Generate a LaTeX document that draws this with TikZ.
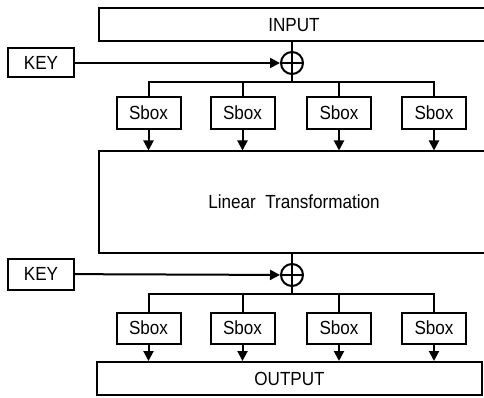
\documentclass[tikz,border=0pt]{standalone}
\usepackage{fontspec}
\setmainfont[FakeStretch=0.9]{Liberation Sans}
\usetikzlibrary{arrows.meta}
\begin{document}
\begin{tikzpicture}[x=1pt,y=-1pt, line width=2pt,
  box/.style={draw, rectangle, inner sep=0pt, font=\fontsize{19}{21}\selectfont},
  sbox/.style={box, minimum width=64pt, minimum height=32pt},
  keybox/.style={box, minimum width=66pt, minimum height=29pt},
  arr/.style={-{Triangle[length=10pt,width=10pt]}},
  xorc/.style={draw, circle, minimum size=22pt, inner sep=0pt}
]
\useasboundingbox (0,0) rectangle (484,398);
% first round
\node[box, minimum width=390pt, minimum height=33pt] (in) at (294,25) {INPUT};
\node[keybox] (k1) at (41,63) {KEY};
\node[xorc] (x1) at (292,63) {};
\draw (x1.north) -- (x1.south) (x1.west) -- (x1.east);
\draw (in.south -| x1) -- (x1.north);
\draw[arr] (k1) -- (x1);
\coordinate (b1) at (292,82);
\draw (x1.south) -- (b1);
\node[sbox] (s11) at (148.5,113) {Sbox};
\node[sbox] (s12) at (242.5,113) {Sbox};
\node[sbox] (s13) at (339,113) {Sbox};
\node[sbox] (s14) at (434,113) {Sbox};
\draw (s11.north) |- (b1) -| (s14.north);
\draw (s12.north) -- (s12.north |- b1);
\draw (s13.north) -- (s13.north |- b1);
\node[box, minimum width=390pt, minimum height=101pt] (lin) at (294,202) {Linear\ \ Transformation};
\foreach \s in {s11,s12,s13,s14} \draw[arr] (\s.south) -- (\s.south |- lin.north);
% second round
\node[keybox, minimum height=31pt] (k2) at (41,274) {KEY};
\node[xorc] (x2) at (292,275) {};
\draw (x2.north) -- (x2.south) (x2.west) -- (x2.east);
\draw (lin.south -| x2) -- (x2.north);
\draw[arr] (k2) -- (x2);
\coordinate (b2) at (292,294);
\draw (x2.south) -- (b2);
\node[sbox, minimum height=31pt] (s21) at (148.5,328) {Sbox};
\node[sbox, minimum height=31pt] (s22) at (242.5,328) {Sbox};
\node[sbox, minimum height=31pt] (s23) at (339,328) {Sbox};
\node[sbox, minimum height=31pt] (s24) at (434,328) {Sbox};
\draw (s21.north) |- (b2) -| (s24.north);
\draw (s22.north) -- (s22.north |- b2);
\draw (s23.north) -- (s23.north |- b2);
\node[box, minimum width=385pt, minimum height=33pt] (out) at (289.5,378.5) {OUTPUT};
\foreach \s in {s21,s22,s23,s24} \draw[arr] (\s.south) -- (\s.south |- out.north);
\end{tikzpicture}
\end{document}
